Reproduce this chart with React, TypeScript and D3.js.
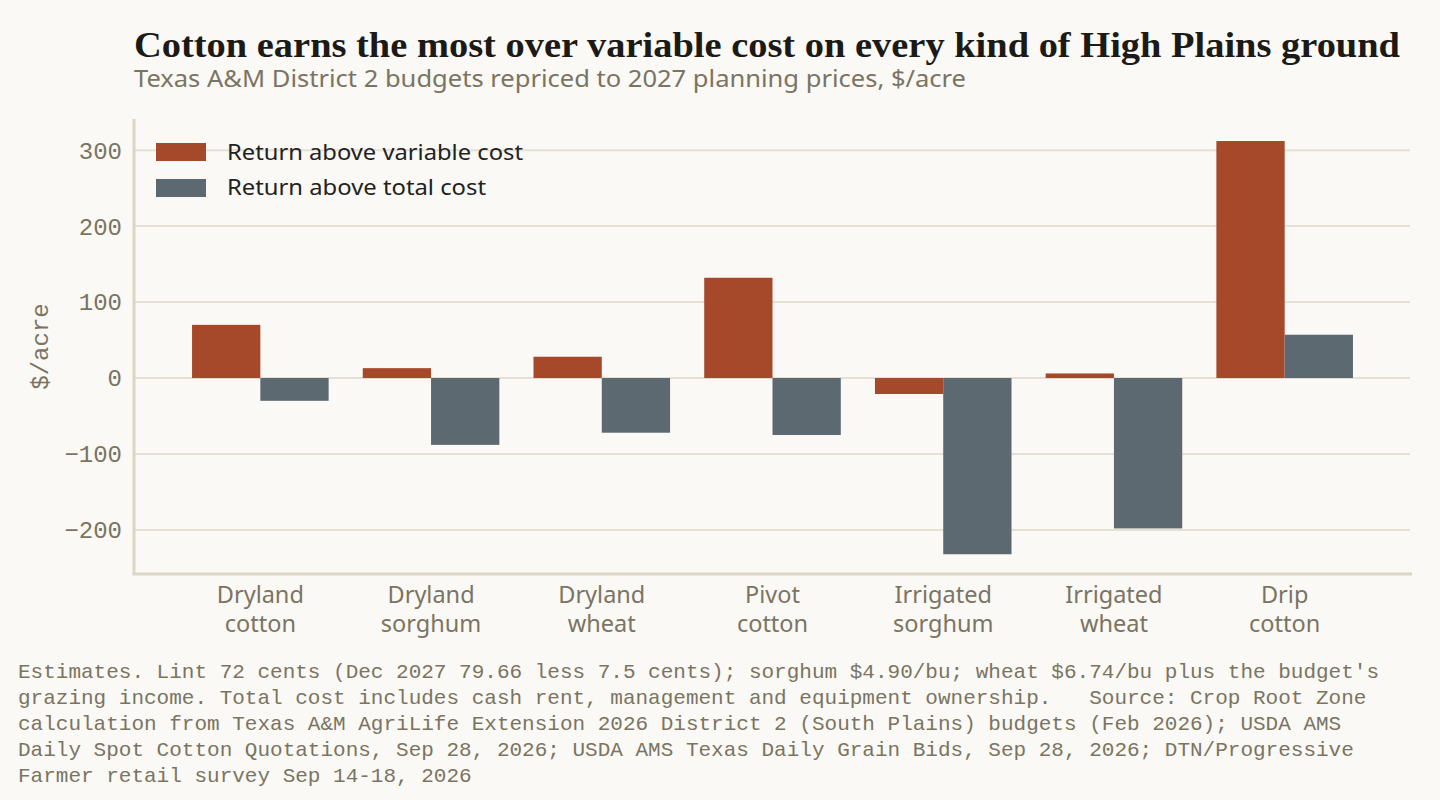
import React from "react";
import * as d3 from "d3";

const categories = [
  ["Dryland", "cotton"],
  ["Dryland", "sorghum"],
  ["Dryland", "wheat"],
  ["Pivot", "cotton"],
  ["Irrigated", "sorghum"],
  ["Irrigated", "wheat"],
  ["Drip", "cotton"],
];
const seriesNames = ["Return above variable cost", "Return above total cost"];
const returnAboveVariable = [70, 13, 28, 132, -21, 6, 312];
const returnAboveTotal = [-30, -88, -72, -75, -232, -198, 57];
const yTicks = [-200, -100, 0, 100, 200, 300];
const footnoteLines = [
  "Estimates. Lint 72 cents (Dec 2027 79.66 less 7.5 cents); sorghum $4.90/bu; wheat $6.74/bu plus the budget's",
  "grazing income. Total cost includes cash rent, management and equipment ownership.   Source: Crop Root Zone",
  "calculation from Texas A&M AgriLife Extension 2026 District 2 (South Plains) budgets (Feb 2026); USDA AMS",
  "Daily Spot Cotton Quotations, Sep 28, 2026; USDA AMS Texas Daily Grain Bids, Sep 28, 2026; DTN/Progressive",
  "Farmer retail survey Sep 14-18, 2026",
];

const W = 1440;
const H = 800;
const BG = "#faf9f5";
const C_VAR = "#a6482a";
const C_TOT = "#5c6970";
const MUTED = "#7a7462";
const GRID = "#e5e0d5";
const AXIS = "#dcd6c6";
const SANS = "'Noto Sans', Roboto, sans-serif";
const MONO = "'Liberation Mono', 'DejaVu Sans Mono', monospace";
const SERIF = "'Liberation Serif', 'DejaVu Serif', serif";

export default function App() {
  const left = 134;
  const right = 1411;
  const top = 119;
  const bottom = 574;

  const y = d3.scaleLinear().domain([-258, 341]).range([bottom, top]);
  const x0 = d3
    .scaleBand<number>()
    .domain(d3.range(categories.length))
    .range([left, right])
    .paddingInner(0.2)
    .paddingOuter(0.34);
  const x1 = d3.scaleBand<number>().domain([0, 1]).range([0, x0.bandwidth()]);
  const series = [returnAboveVariable, returnAboveTotal];
  const colors = [C_VAR, C_TOT];
  const legendWidths = [296, 259];

  return (
    <svg
      width={W}
      height={H}
      style={{ position: "absolute", left: 0, top: 0, background: BG }}
    >
      <rect x={0} y={0} width={W} height={H} fill={BG} />
      <text
        x={134}
        y={57}
        fontFamily={SERIF}
        fontWeight={700}
        fontSize={36}
        fill="#1c1a17"
        textLength={1266}
        lengthAdjust="spacingAndGlyphs"
      >
        Cotton earns the most over variable cost on every kind of High Plains ground
      </text>
      <text
        x={134}
        y={87}
        fontFamily={SANS}
        fontSize={23}
        fill={MUTED}
        textLength={832}
        lengthAdjust="spacingAndGlyphs"
      >
        Texas A&amp;M District 2 budgets repriced to 2027 planning prices, $/acre
      </text>

      {yTicks.map((t) => (
        <g key={t}>
          <line x1={left} x2={right - 1} y1={y(t)} y2={y(t)} stroke={GRID} strokeWidth={2} />
          <text
            x={122}
            y={y(t)}
            dy="0.35em"
            textAnchor="end"
            fontFamily={MONO}
            fontSize={24}
            fill={MUTED}
          >
            {t < 0 ? "\u2212" + Math.abs(t) : t}
          </text>
        </g>
      ))}

      <text
        transform={`translate(40,${(top + bottom) / 2}) rotate(-90)`}
        textAnchor="middle"
        dy="0.35em"
        fontFamily={MONO}
        fontSize={24}
        fill={MUTED}
      >
        $/acre
      </text>

      {series.map((vals, si) =>
        vals.map((v, i) => (
          <rect
            key={si + "-" + i}
            x={(x0(i) as number) + (x1(si) as number)}
            width={x1.bandwidth()}
            y={y(Math.max(0, v))}
            height={Math.abs(y(v) - y(0))}
            fill={colors[si]}
          />
        ))
      )}

      <line x1={left} x2={left} y1={top} y2={bottom} stroke={AXIS} strokeWidth={3} />
      <line x1={left - 1.5} x2={right + 1} y1={bottom} y2={bottom} stroke={AXIS} strokeWidth={3} />

      {categories.map((c, i) => (
        <text
          key={i}
          textAnchor="middle"
          fontFamily={SANS}
          fontSize={23.5}
          fill={MUTED}
        >
          <tspan x={(x0(i) as number) + x0.bandwidth() / 2} y={603}>
            {c[0]}
          </tspan>
          <tspan x={(x0(i) as number) + x0.bandwidth() / 2} y={632}>
            {c[1]}
          </tspan>
        </text>
      ))}

      {seriesNames.map((name, i) => (
        <g key={name}>
          <rect x={156} y={143 + i * 36} width={50} height={18} fill={colors[i]} />
          <text
            x={227}
            y={160 + i * 35}
            fontFamily={SANS}
            fontSize={21}
            fill="#222"
            textLength={legendWidths[i]}
            lengthAdjust="spacingAndGlyphs"
          >
            {name}
          </text>
        </g>
      ))}

      {footnoteLines.map((l, i) => (
        <text
          key={i}
          x={18}
          y={678 + i * 26}
          fontFamily={MONO}
          fontSize={21}
          fill={MUTED}
          style={{ whiteSpace: "pre" }}
          xmlSpace="preserve"
        >
          {l}
        </text>
      ))}
    </svg>
  );
}
